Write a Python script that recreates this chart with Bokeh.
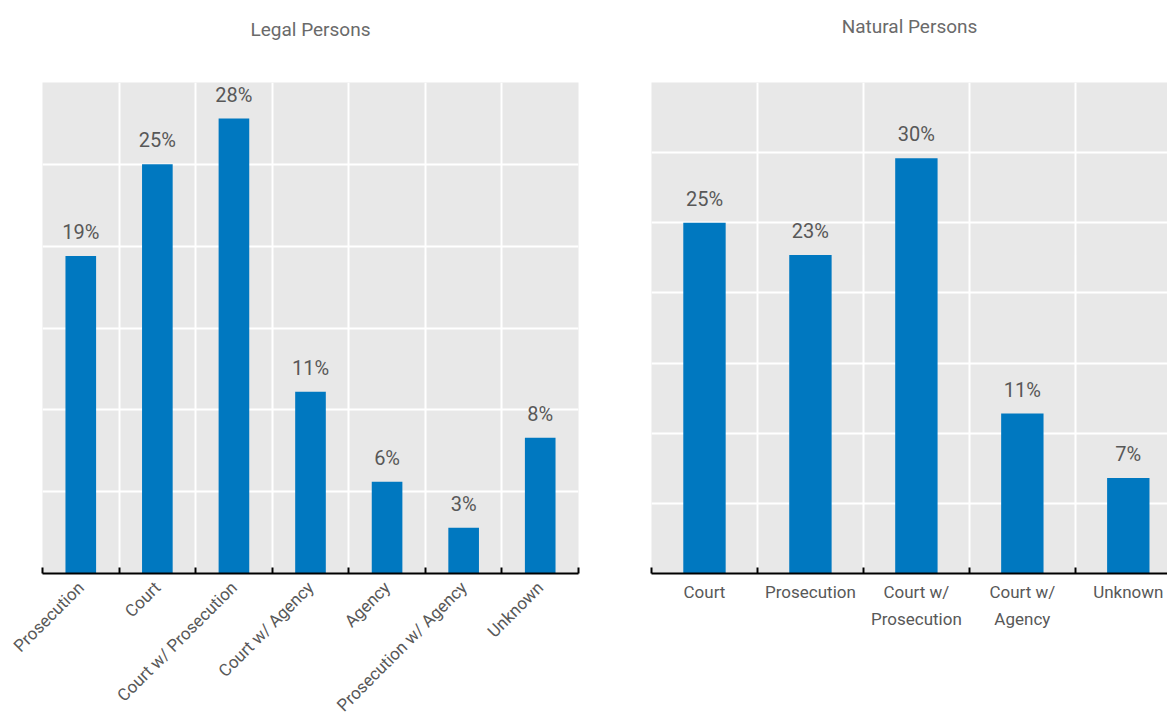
from math import pi
from bokeh.plotting import figure
from bokeh.layouts import row
from bokeh.models import Range1d, FixedTicker, ColumnDataSource, Title
from bokeh.core.properties import value
from bokeh.embed import file_html
from bokeh.resources import INLINE

# ---- data ----
legal_categories = ["Prosecution", "Court", "Court w/ Prosecution", "Court w/ Agency",
                    "Agency", "Prosecution w/ Agency", "Unknown"]
legal_values = [19.4, 25.0, 27.8, 11.1, 5.6, 2.8, 8.3]

natural_categories = ["Court", "Prosecution", "Court w/\nProsecution", "Court w/\nAgency", "Unknown"]
natural_values = [25.0, 22.7, 29.6, 11.4, 6.8]

FONT = "Roboto"
TEXT_COLOR = "#585858"
TITLE_COLOR = "#6a6a6a"
BAR_COLOR = "#0078c0"


def make(title, cats, vals, ymax, xmax, width, mbl, mbr, orientation, spacer, label_standoff):
    n = len(cats)
    xs = [i + 0.5 for i in range(n)]
    labels = [f"{round(v)}%" for v in vals]
    src = ColumnDataSource(dict(x=xs, top=vals, label=labels))
    p = figure(width=width, height=725, x_range=Range1d(0, xmax), y_range=Range1d(0, ymax),
               output_backend="svg", toolbar_location=None, title=title,
               min_border_left=mbl, min_border_right=mbr, min_border_top=82, min_border_bottom=152)
    p.background_fill_color = "#e8e8e8"
    p.border_fill_color = "white"
    p.outline_line_color = None
    p.title.align = "center"
    p.title.text_font = FONT
    p.title.text_font_size = "19px"
    p.title.text_font_style = "normal"
    p.title.text_color = TITLE_COLOR
    p.title.standoff = 10
    # blank spacer between title and frame
    p.add_layout(Title(text=" ", text_font_size="10px", standoff=spacer), "above")

    p.vbar(x="x", top="top", bottom=0, width=0.4, source=src, fill_color=BAR_COLOR, line_color=None)
    p.text(x="x", y="top", text="label", source=src, text_align="center", text_baseline="bottom",
           y_offset=-12, text_font=value(FONT), text_font_size="20px", text_color=TEXT_COLOR)

    p.yaxis.visible = False
    ax = p.xaxis[0]
    ax.ticker = FixedTicker(ticks=xs, minor_ticks=list(range(0, n + 1)))
    ax.major_label_overrides = {x: c for x, c in zip(xs, cats)}
    ax.major_tick_line_color = None
    ax.major_tick_in = 0
    ax.major_tick_out = 0
    ax.minor_tick_in = 6
    ax.minor_tick_out = 0
    ax.minor_tick_line_color = "black"
    ax.minor_tick_line_width = 2
    ax.axis_line_color = "black"
    ax.axis_line_width = 2
    ax.major_label_text_font = FONT
    ax.major_label_text_font_size = "17px"
    ax.major_label_text_color = TEXT_COLOR
    ax.major_label_text_line_height = 1.35
    ax.major_label_orientation = orientation
    ax.major_label_standoff = label_standoff

    p.xgrid.ticker = FixedTicker(ticks=list(range(1, n)))
    p.ygrid.ticker = FixedTicker(ticks=list(range(5, ymax, 5)))
    p.xgrid.grid_line_color = "white"
    p.ygrid.grid_line_color = "white"
    p.xgrid.grid_line_width = 2
    p.ygrid.grid_line_width = 2
    return p


p1 = make("Legal Persons", legal_categories, legal_values, 30, 7, 608, 42, 30, pi / 4, 24, 11)
p2 = make("Natural Persons", natural_categories, natural_values, 35, 4.87, 559, 43, 0, "horizontal", 27, 8)

layout = row(p1, p2)
open("out.html", "w").write(file_html(layout, INLINE))
